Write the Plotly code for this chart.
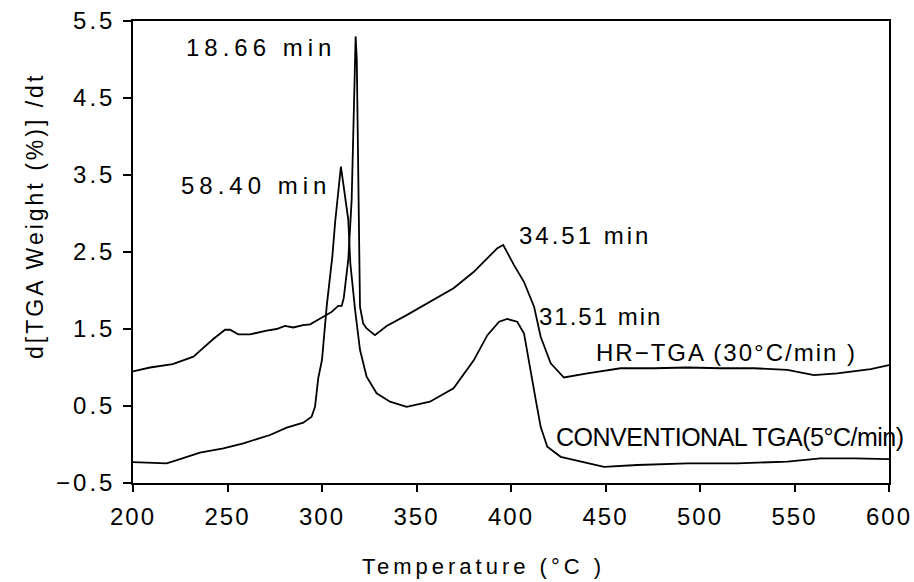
import plotly.graph_objects as go

# HR-TGA (30 C/min) derivative curve
hr_x = [200, 209, 221, 232, 236, 242.5, 248.7, 251.3, 255.7, 262, 270.7, 276, 280.4, 284.8,
        290, 293.7, 300.7, 305, 308.6, 310.4, 311.5, 313.9, 315.7, 317, 317.8, 318.4,
        319.2, 319.6, 320.1, 321.8, 323.5, 328, 334.2, 344.8, 357.1, 369.6, 380.2, 387.5,
        392.8, 395.9, 401.6, 406.9, 412.2, 415.7, 421, 428, 440.4, 458, 475.7, 493.3,
        511, 528.6, 546.2, 560.3, 572.6, 590.3, 600]
hr_y = [0.95, 1.0, 1.045, 1.14, 1.23, 1.37, 1.49, 1.49, 1.43, 1.43, 1.48, 1.5, 1.54, 1.52,
        1.55, 1.56, 1.66, 1.72, 1.8, 1.8, 1.9, 2.4, 3.18, 4.5, 5.3, 5.0,
        3.18, 2.5, 1.79, 1.57, 1.51, 1.42, 1.54, 1.68, 1.855, 2.03, 2.24, 2.42,
        2.55, 2.59, 2.33, 2.11, 1.79, 1.4, 1.055, 0.87, 0.925, 0.99, 0.99, 1.0,
        0.99, 0.99, 0.97, 0.9, 0.925, 0.98, 1.03]

# Conventional TGA (5 C/min) derivative curve
cv_x = [200, 209, 217.8, 224.9, 235.4, 247.8, 258.4, 272.5, 281.3, 290.1, 294.5, 296.3,
        298, 300, 302.5, 305.5, 307, 310, 313.9, 315, 317.5, 320.1, 323.6, 328.9, 336,
        344.8, 357.1, 369.6, 380.2, 387.5, 393.7, 398, 403.3, 406.9, 409.5, 413.1, 415.7,
        419.2, 426.3, 440.4, 449.2, 466.8, 493.3, 519.7, 546.2, 563.8, 581.5, 600]
cv_y = [-0.23, -0.236, -0.244, -0.19, -0.106, -0.05, 0.016, 0.123, 0.218, 0.283, 0.36, 0.49,
        0.86, 1.1, 1.8, 2.45, 2.9, 3.61, 2.92, 2.35, 1.75, 1.23, 0.88, 0.665, 0.556,
        0.49, 0.556, 0.73, 1.09, 1.42, 1.595, 1.63, 1.595, 1.44, 1.1, 0.58, 0.23,
        -0.03, -0.16, -0.244, -0.29, -0.266, -0.244, -0.244, -0.223, -0.18, -0.18, -0.19]

x_ticks = [200, 250, 300, 350, 400, 450, 500, 550, 600]
x_tick_labels = ["200", "250", "300", "350", "400", "450", "500", "550", "600"]
y_ticks = [-0.5, 0.5, 1.5, 2.5, 3.5, 4.5, 5.5]
y_tick_labels = ["\u22120.5", "0.5", "1.5", "2.5", "3.5", "4.5", "5.5"]

# annotation labels: (text, x, y, anchor, letter spacing)
labels = [
    ("18.66 min", 308.5, 5.16, "right", 5),
    ("58.40 min", 305.8, 3.37, "right", 5),
    ("34.51 min", 403.2, 2.72, "left", 3),
    ("31.51 min", 413.8, 1.66, "left", 2),
    ("HR\u2212TGA (30\u00b0C/min )", 443.9, 1.2, "left", 2),
    ("CONVENTIONAL TGA(5\u00b0C/min)", 422.8, 0.1, "left", -0.5),
]

FONT = "Liberation Sans"

def spaced(t, s):
    return f'<span style="letter-spacing:{s}px">{t}</span>'

fig = go.Figure()
fig.add_trace(go.Scatter(x=hr_x, y=hr_y, mode="lines",
                         line=dict(color="black", width=1.8), showlegend=False))
fig.add_trace(go.Scatter(x=cv_x, y=cv_y, mode="lines",
                         line=dict(color="black", width=1.8), showlegend=False))

for t, x, y, anc, s in labels:
    fig.add_annotation(x=x, y=y, xref="x", yref="y", text=spaced(t, s),
                       showarrow=False, xanchor=anc, yanchor="middle",
                       font=dict(family=FONT, size=24 if "CONV" not in t else 25, color="black"))

fig.add_annotation(x=-0.1296, y=0.578, xref="paper", yref="paper",
                   text=spaced("d[TGA Weight (%)] /dt", 3), textangle=-90, showarrow=False,
                   xanchor="center", yanchor="middle",
                   font=dict(family=FONT, size=23, color="black"))
fig.add_annotation(x=0.4636, y=-0.1818, xref="paper", yref="paper",
                   text=spaced("Temperature (\u00b0C )", 4), showarrow=False,
                   xanchor="center", yanchor="middle",
                   font=dict(family=FONT, size=22, color="black"))

fig.update_layout(
    width=914, height=582,
    margin=dict(l=133, r=25, t=21, b=99),
    paper_bgcolor="white", plot_bgcolor="white",
    xaxis=dict(range=[200, 600], tickvals=x_ticks,
               ticktext=[spaced(t, 2) for t in x_tick_labels],
               ticks="outside", ticklen=7, tickwidth=1.5, tickcolor="black",
               showline=True, linecolor="black", linewidth=1.5, mirror=True,
               showgrid=False, zeroline=False, automargin=False,
               ticklabelstandoff=4,
               tickfont=dict(family=FONT, size=24, color="black")),
    yaxis=dict(range=[-0.5, 5.5], tickvals=y_ticks,
               ticktext=[spaced(t, 3) for t in y_tick_labels],
               ticks="outside", ticklen=8, tickwidth=1.5, tickcolor="black",
               showline=True, linecolor="black", linewidth=1.5, mirror=True,
               showgrid=False, zeroline=False, automargin=False,
               ticklabelstandoff=3,
               tickfont=dict(family=FONT, size=24, color="black")),
)

fig.write_html("out.html")
